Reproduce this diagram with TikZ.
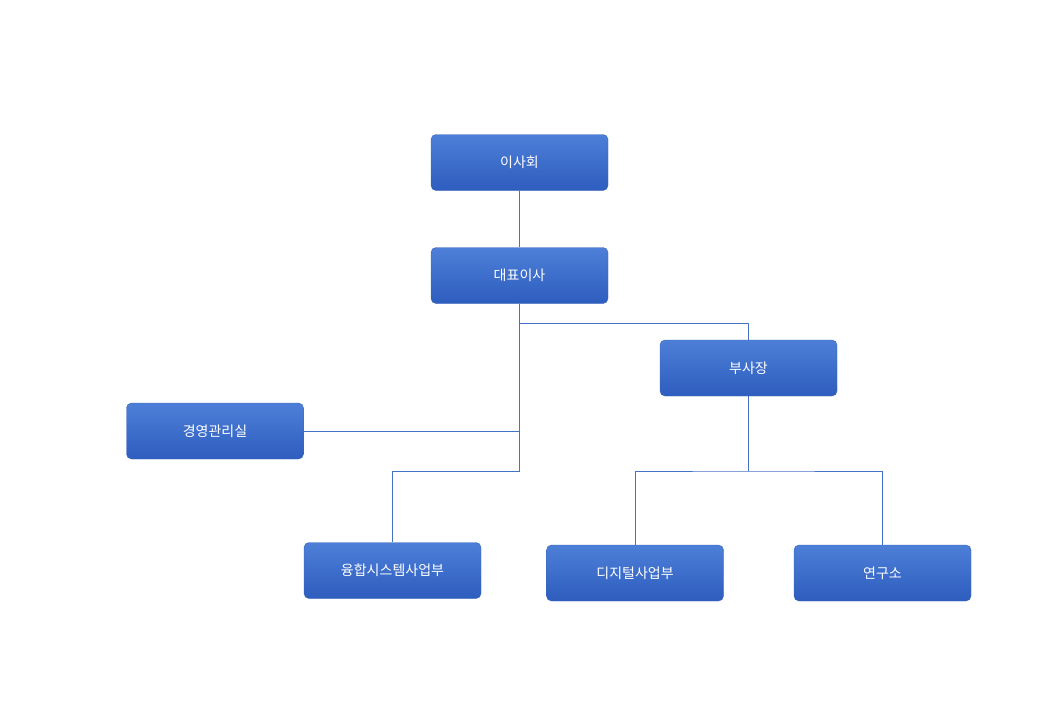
\documentclass[tikz,border=0pt]{standalone}
\usepackage{fontspec}
\setmainfont{Noto Sans CJK KR}
\definecolor{topc}{HTML}{4D7FD8}
\definecolor{botc}{HTML}{2E5DBE}
\definecolor{edgec}{HTML}{3A66B8}
\definecolor{linec}{HTML}{4472C4}
\tikzset{box/.style={draw=edgec,rounded corners=5pt,top color=topc,bottom color=botc,minimum width=177pt,minimum height=56pt,text=white,font=\fontsize{14}{16}\selectfont,inner sep=0pt},
conn/.style={draw=linec,line width=0.8pt}}
\begin{document}
\begin{tikzpicture}[x=1pt,y=-1pt]
\useasboundingbox (0,0) rectangle (1040,720);
\node[box] (a) at (519.5,162.5) {이사회};
\node[box] (b) at (519.5,275.5) {대표이사};
\node[box] (c) at (748.5,368) {부사장};
\node[box] (d) at (215,431) {경영관리실};
\node[box] (e) at (392.5,570.5) {융합시스템사업부};
\node[box] (f) at (635,573) {디지털사업부};
\node[box] (g) at (882.5,573) {연구소};
\coordinate (j1) at (519.5,323);
\coordinate (j2) at (519.5,471);
\coordinate (j3) at (748.5,471);
\draw[conn] (a) -- (b);
\draw[conn] (b) -- (j2) -| (e);
\draw[conn] (j1) -| (c);
\draw[conn] (d.east) -- (d.east -| j1);
\draw[conn] (c) -- (j3);
\draw[conn] (f) |- (j3) -| (g);
\end{tikzpicture}
\end{document}
